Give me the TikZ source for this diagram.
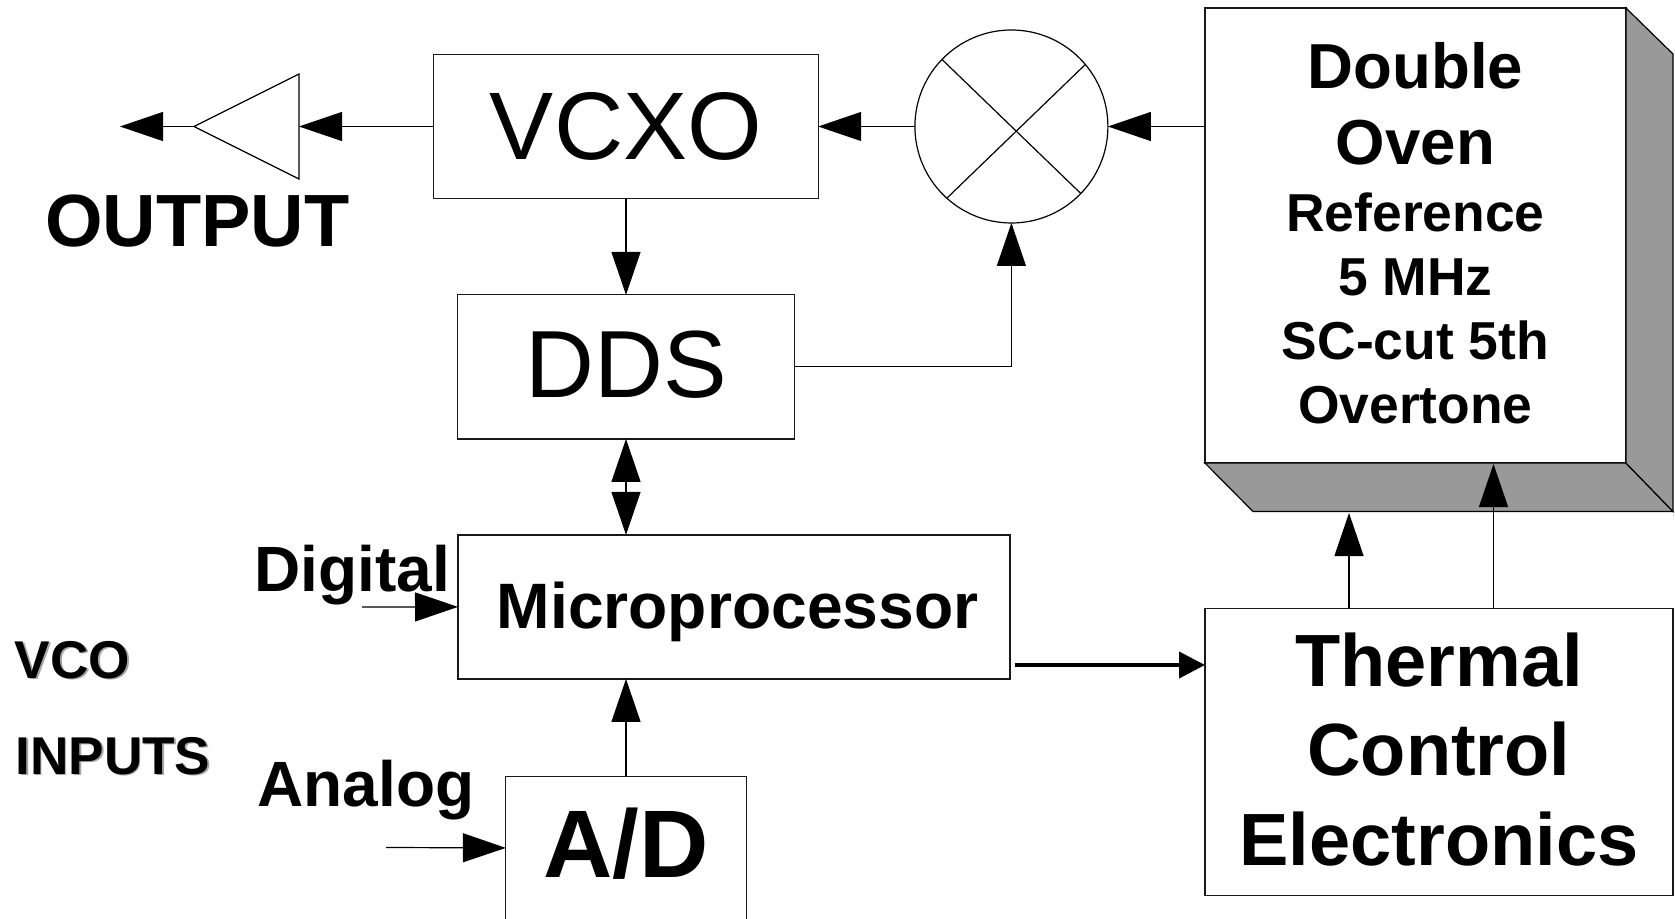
\documentclass[tikz,border=0pt]{standalone}
\usepackage{fontspec}
\setmainfont{Liberation Sans}
\usetikzlibrary{positioning, arrows.meta, shapes.geometric}
\definecolor{ovenshade}{HTML}{999999}
\newcommand{\shadowed}[1]{\rlap{\raisebox{-0.9pt}{\hspace{0.9pt}\textcolor{gray!70}{#1}}}#1}
\newcommand{\ovenbig}{\fontsize{31.8}{38.5}\selectfont}
\tikzset{
	blockbox/.style={draw=black!90,line width=0.6pt,inner sep=0pt,outer sep=0pt,align=center,fill=white},
	sizedbox/.style 2 args={blockbox,minimum width=#1,minimum height=#2},
	sig/.style={line width=0.6pt,-{Triangle[length=21.5pt,width=14.5pt]}},
	inlabel/.style={anchor=base west,inner sep=0pt,font=\fontsize{32}{38}\selectfont\bfseries},
	vcolabel/.style={anchor=base west,inner sep=0pt,font=\fontsize{26.6}{30}\selectfont\bfseries}
}

\begin{document}
\begin{tikzpicture}[x=0.5pt,y=-0.5pt,on grid]
	\useasboundingbox (0,0) rectangle (1675,919);
	\node[sizedbox={192.2pt}{72pt},font=\fontsize{48}{50}\selectfont] (vcxo) at (626,126.5) {VCXO};
	\node[sizedbox={168.6pt}{72pt},text depth=3pt,font=\fontsize{47.7}{50}\selectfont] (dds) [below=120.2pt of vcxo] {DDS};
	\node[sizedbox={276pt}{72pt},text depth=2.1pt,font=\fontsize{32.1}{38}\selectfont\bfseries] (micro) [below right=120pt and 54pt of dds] {\hspace*{3.5pt}Microprocessor};
	\node[sizedbox={120.2pt}{71.5pt},text depth=5pt,font=\fontsize{48}{50}\selectfont\bfseries] (ad) [below left=120.5pt and 54pt of micro] {A/D};
	\node[circle,draw,line width=0.6pt,inner sep=0pt,outer sep=0pt,minimum size=96.5pt] (mix) [right=192.7pt of vcxo] {};
	\node[sizedbox={210.5pt}{227.5pt},text depth=2.4pt,font=\fontsize{26.7}{32}\selectfont\bfseries] (oven) [below right=54.5pt and 202pt of mix] {%
		\ovenbig Double\\[6pt]
		\ovenbig Oven\\[1.5pt]
		Reference\\
		5 MHz\\
		SC-cut 5th\\
		Overtone};
	\node[sizedbox={234pt}{143.5pt},text depth=3pt,font=\fontsize{37}{44.7}\selectfont\bfseries] (therm) [below right=258.2pt and 11.8pt of oven] {Thermal\\Control\\Electronics};
	\node[draw,line width=0.6pt,isosceles triangle,isosceles triangle stretches,shape border rotate=180,inner sep=0pt,outer sep=0pt,minimum width=52.5pt,minimum height=52.5pt,anchor=east] (amp) at (299,126.5) {};
	% free ends
	\coordinate (outtip) at (120,126.5);
	\coordinate (digin) at (362,607);
	\coordinate (anain) at (386,847.5);
	\coordinate (mpout) at (1015,665);
	\coordinate (ovenbl) at (1253,511.5);
	\coordinate (ovenbr) at (1673,511.5);
	\coordinate (ovenur) at (1673,54);
	\coordinate (heatA) at (1349,513);
	\coordinate (heatB) at (1493.5,464);
	% oven faces
	\draw[line width=0.6pt,fill=ovenshade] (oven.south west) -- (ovenbl) -- (ovenbr) -- (oven.south east) -- cycle;
	\draw[line width=0.6pt,fill=ovenshade] (oven.north east) -- (ovenur) -- (ovenbr) -- (oven.south east) -- cycle;
	% cross in the mixer
	\draw[line width=0.6pt] (mix.136) -- (mix.-44)
		(mix.40.5) -- (mix.228);
	% signals
	\draw[sig] (amp.apex) -- (outtip);
	\draw[sig] (vcxo.west) -- (amp.east);
	\draw[sig] (mix.west) -- (vcxo.east);
	\draw[sig] (mix.east -| oven.west) -- (mix.east);
	\draw[sig] (vcxo.south) -- (vcxo.south |- dds.north);
	\draw[sig] (dds.east) -| (mix.south);
	\draw[sig,{Triangle[length=21.5pt,width=14.5pt]}-{Triangle[length=21.5pt,width=14.5pt]}] (dds.south) -- (dds.south |- micro.north);
	\draw[sig] (ad.north) -- (ad.north |- micro.south);
	\draw[sig] (digin) -- (micro.west);
	\draw[sig] (anain) -- (ad.west);
	\draw[line width=2pt,-{Triangle[length=13pt,width=13pt]}] (mpout) -- (mpout -| therm.west);
	\draw[sig] (heatA |- therm.north) -- (heatA);
	\draw[sig] (heatB |- therm.north) -- (heatB);
	% labels
	\node[anchor=base west,inner sep=0pt,font=\fontsize{37}{40}\selectfont\bfseries] (outlabel) at (45,247) {OUTPUT};
	\node[inlabel] (diglabel) at (254,591) {Digital};
	\node[inlabel] (analabel) at (257,806) {Analog};
	\node[vcolabel] (vcolabel) at (14.5,678) {\shadowed{VCO}};
	\node[vcolabel] (inplabel) at (15,774) {\shadowed{INPUTS}};
\end{tikzpicture}
\end{document}
